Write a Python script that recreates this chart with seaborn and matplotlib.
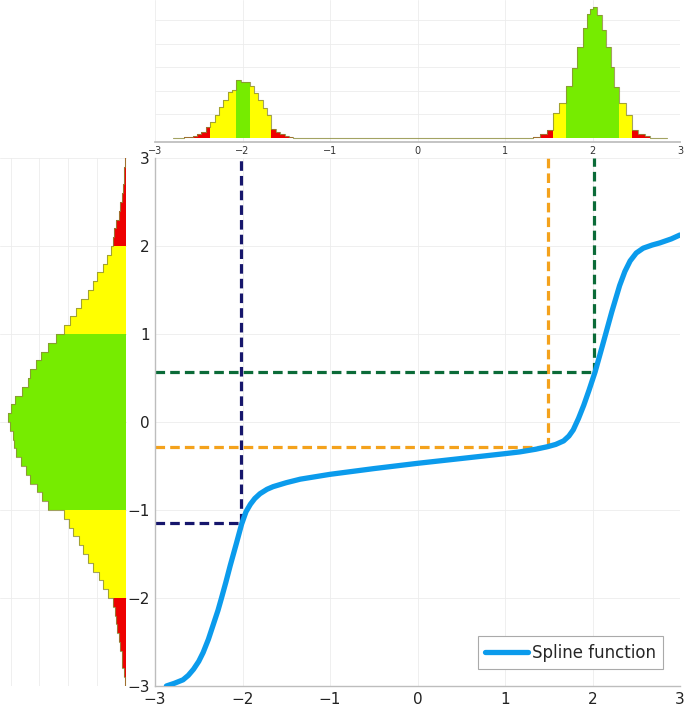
import numpy as np
import pandas as pd
import matplotlib
matplotlib.use("Agg")
import matplotlib.pyplot as plt
import seaborn as sns

# ---------------- data ----------------
# top histogram (samples of the bimodal variable)
top_edges = [-2.80, -2.67, -2.62, -2.57, -2.52, -2.47, -2.42, -2.37, -2.32, -2.27,
             -2.22, -2.17, -2.12, -2.07, -2.02, -1.97, -1.92, -1.87, -1.82, -1.77,
             -1.72, -1.67, -1.62, -1.57, -1.52, -1.47, -1.42,
             1.324, 1.400, 1.476, 1.552, 1.621, 1.693, 1.762, 1.819, 1.888, 1.933,
             1.971, 2.010, 2.055, 2.105, 2.154, 2.208, 2.250, 2.303, 2.383, 2.448,
             2.524, 2.600, 2.657, 2.85]
top_counts = [0,
              0.5, 1, 1.5, 3.3, 6, 10.7, 15.7, 23, 30.7, 38, 45.7, 48, 57.3, 56, 55.7,
              51.7, 44.3, 37.7, 30, 22.3, 9, 5.7, 3.3, 1.7, 0.7,
              0,
              1, 3.7, 7.7, 24.3, 34.3, 51.7, 69.3, 91, 109.3, 123.7, 128.3, 130.3,
              122.7, 107.7, 91, 71, 50.3, 34.3, 22.7, 7.7, 3.3, 1.7,
              0]
top_green = [(-2.07, -1.92), (1.693, 2.303)]
top_yellow = [(-2.37, -1.67), (1.552, 2.448)]

# left histogram (transformed, standard-normal-like values)
left_edges = [round(v, 2) for v in np.arange(-3.0, 3.001, 0.1)]
left_counts = [0.04, 0.08, 0.12, 0.15, 0.19, 0.25, 0.29, 0.33, 0.38, 0.45,
               0.62, 0.78, 0.92, 1.13, 1.33, 1.48, 1.62, 1.84, 1.98, 2.15,
               2.71, 2.92, 3.09, 3.33, 3.48, 3.65, 3.80, 3.88, 3.92, 4.02,
               4.09, 4.00, 3.84, 3.60, 3.41, 3.33, 3.13, 2.94, 2.71, 2.42,
               2.15, 1.95, 1.74, 1.56, 1.33, 1.15, 1.01, 0.80, 0.66, 0.52,
               0.45, 0.40, 0.33, 0.25, 0.19, 0.13, 0.09, 0.06, 0.05, 0.02]

# spline function
spline_x = [-2.87, -2.78, -2.68, -2.62, -2.56, -2.50, -2.45, -2.39, -2.33, -2.28,
            -2.24, -2.19, -2.14, -2.07, -2.01, -1.96, -1.91, -1.86, -1.80, -1.72,
            -1.65, -1.50, -1.34, -1.0, -0.5, 0.0, 0.5, 1.0, 1.17, 1.35, 1.49, 1.58,
            1.67, 1.73, 1.78, 1.84, 1.90, 1.96, 2.03, 2.12, 2.22, 2.31, 2.37, 2.43,
            2.50, 2.58, 2.68, 2.77, 2.90, 3.0]
spline_y = [-3.0, -2.97, -2.93, -2.88, -2.81, -2.72, -2.62, -2.47, -2.29, -2.14,
            -2.0, -1.82, -1.63, -1.38, -1.16, -1.02, -0.935, -0.87, -0.815, -0.765,
            -0.735, -0.69, -0.65, -0.595, -0.53, -0.47, -0.415, -0.36, -0.34, -0.31,
            -0.28, -0.255, -0.215, -0.16, -0.09, 0.04, 0.19, 0.36, 0.57, 0.89, 1.25,
            1.55, 1.71, 1.83, 1.92, 1.975, 2.01, 2.035, 2.08, 2.125]

# quantile guide lines
quant_x = [-2.02, 1.49, 2.02]
quant_y = [-1.15, -0.28, 0.57]
quant_colors = ["#16166c", "#f4a21c", "#0b6b38"]

ticks = [-3, -2, -1, 0, 1, 2, 3]

# ---------------- style ----------------
sns.set_theme(style="white")
plt.rcParams["font.family"] = ["DejaVu Sans"]
zone_palette = {"green": "#76ec00", "yellow": "#ffff00", "red": "#ee0000"}
outline = "#8c8c3c"
grid_c = "#ececec"
spine_c = "#bdbdbd"

fig = plt.figure(figsize=(6.85, 7.08), dpi=100)
ax = fig.add_axes([0.2263, 0.0311, 0.7664, 0.7458])
ax_top = fig.add_axes([0.2263, 0.8001, 0.7664, 0.1999])
ax_left = fig.add_axes([0.0, 0.0311, 0.1854, 0.7458])


def zone_top(c):
    if any(a <= c <= b for a, b in top_green):
        return "green"
    if any(a <= c <= b for a, b in top_yellow):
        return "yellow"
    return "red"


te = np.array(top_edges)
tc = (te[:-1] + te[1:]) / 2
top_df = pd.DataFrame({"x": tc, "w": top_counts, "zone": [zone_top(c) for c in tc]})

sns.histplot(data=top_df, x="x", weights="w", bins=list(top_edges), hue="zone",
             palette=zone_palette, multiple="layer", element="bars", alpha=1,
             linewidth=0, legend=False, ax=ax_top)
sns.histplot(data=top_df, x="x", weights="w", bins=list(top_edges), element="step",
             fill=False, color=outline, linewidth=0.8, alpha=0.8, ax=ax_top)
ax_top.set_xlim(-3, 3)
ax_top.set_ylim(-3.8, 137.7)
ax_top.set_xticks(ticks)
ax_top.set_xticklabels([str(t).replace("-", "\u2212") for t in ticks], fontsize=7, color="#333333")
ax_top.set_yticks([23.5, 47, 70.5, 94, 117.5])
ax_top.set_yticklabels([])
ax_top.set_xlabel("")
ax_top.set_ylabel("")
ax_top.grid(True, color=grid_c, linewidth=0.6)
ax_top.set_axisbelow(True)
for s in ["top", "right", "left"]:
    ax_top.spines[s].set_visible(False)
ax_top.spines["bottom"].set_color(spine_c)
ax_top.tick_params(axis="x", length=2, direction="in", color=spine_c, pad=3)
ax_top.tick_params(axis="y", length=0)

le = np.array(left_edges)
lc = (le[:-1] + le[1:]) / 2
left_zone = ["green" if abs(c) < 1 else ("yellow" if abs(c) < 2 else "red") for c in lc]
left_df = pd.DataFrame({"y": lc, "w": left_counts, "zone": left_zone})
sns.histplot(data=left_df, y="y", weights="w", bins=list(left_edges), hue="zone",
             palette=zone_palette, multiple="layer", element="bars", alpha=1,
             linewidth=0, legend=False, ax=ax_left)
sns.histplot(data=left_df, y="y", weights="w", bins=list(left_edges), element="step",
             fill=False, color=outline, linewidth=0.8, alpha=0.8, ax=ax_left)
ax_left.set_xlim(4.37, -0.04)
ax_left.set_ylim(-3, 3)
ax_left.set_xticks([1, 2, 3, 4])
ax_left.set_yticks(ticks)
ax_left.set_xticklabels([])
ax_left.set_yticklabels([])
ax_left.set_xlabel("")
ax_left.set_ylabel("")
ax_left.grid(True, color=grid_c, linewidth=0.6)
ax_left.set_axisbelow(True)
for s in ax_left.spines.values():
    s.set_visible(False)
ax_left.tick_params(length=0)

# main panel
for qx, qy, qc in zip(quant_x, quant_y, quant_colors):
    ax.plot([qx, qx], [qy, 3], color=qc, linewidth=2.3, dashes=(3.0, 1.6), zorder=2)
    ax.plot([-3, qx], [qy, qy], color=qc, linewidth=2.3, dashes=(3.0, 1.6), zorder=2)

sns.lineplot(x=spline_x, y=spline_y, color="#0b9bec", linewidth=3.8, sort=False,
             label="Spline function", ax=ax, zorder=3)
ax.lines[-1].set_solid_joinstyle("round")
ax.set_xlim(-3, 3)
ax.set_ylim(-3, 3)
ax.set_xticks(ticks)
ax.set_yticks(ticks)
lab = [str(t).replace("-", "\u2212") for t in ticks]
ax.set_xticklabels(lab, fontsize=11, color="#222222")
ax.set_yticklabels(lab, fontsize=11, color="#222222")
ax.grid(True, color=grid_c, linewidth=0.6)
ax.set_axisbelow(True)
for s in ["top", "right"]:
    ax.spines[s].set_visible(False)
for s in ["left", "bottom"]:
    ax.spines[s].set_color(spine_c)
    ax.spines[s].set_linewidth(1.0)
ax.tick_params(length=3, direction="in", color=spine_c, pad=4)
leg = ax.legend(loc="lower right", bbox_to_anchor=(0.968, 0.032), borderaxespad=0,
                fontsize=12, frameon=True, fancybox=False, framealpha=1,
                edgecolor="#aaaaaa", handlelength=2.6, handletextpad=0.2,
                borderpad=0.45)
leg.get_frame().set_linewidth(0.8)

fig.savefig("out.png", dpi=100)
